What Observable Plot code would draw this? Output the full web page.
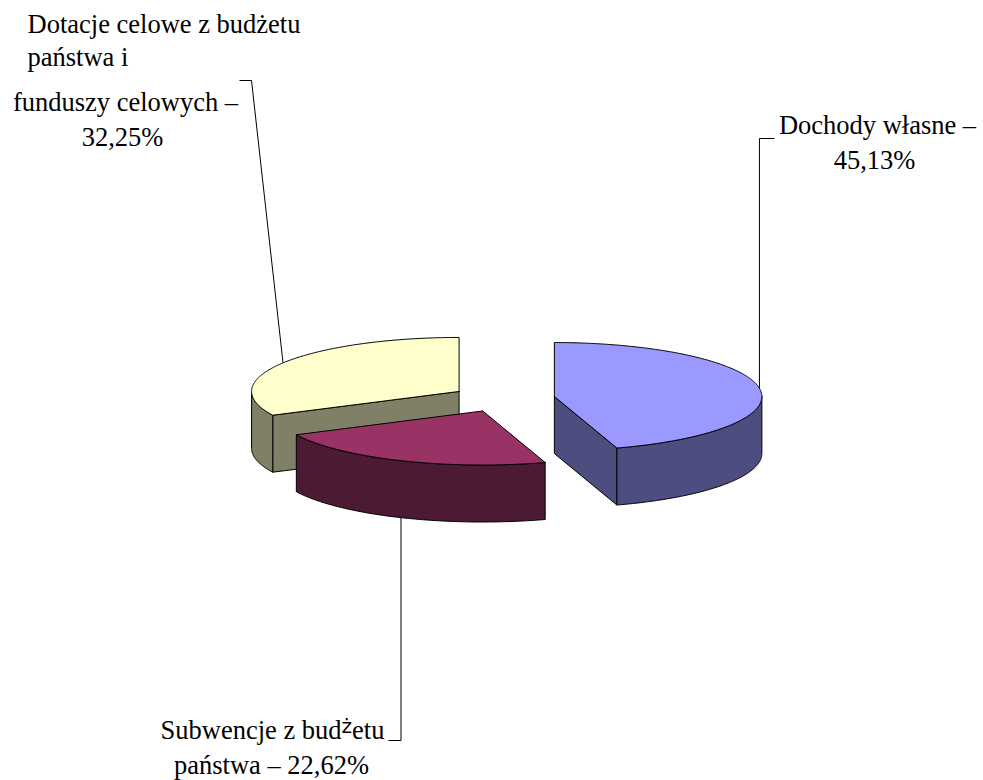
<!DOCTYPE html>
<html lang="pl">
<head>
<meta charset="utf-8">
<title>Struktura dochodów</title>
<script src="https://cdn.jsdelivr.net/npm/d3@7"></script>
<script src="https://cdn.jsdelivr.net/npm/@observablehq/plot@0.6"></script>
<style>
html,body{margin:0;padding:0;background:#fff}
svg{display:block}
</style>
</head>
<body>
<div id="chart"></div>
<script>
// Data
const categories = ["Dochody własne", "Subwencje z budżetu państwa", "Dotacje celowe z budżetu państwa i funduszy celowych"];
const shares = [45.13, 22.62, 32.25];
const topColors = ["#9999FF", "#993366", "#FFFFCC"];
const sideColors = ["#4D4D80", "#4D1A33", "#808066"];
const drawOrder = [2, 0, 1];

// Pie geometry (page pixels for the projection of the unit pie)
const W = 983, H = 780, cxPx = 502.6, cyPx = 398.1, rxPx = 207.5, ryPx = 54;
const depth = 57 / ryPx, explode = 0.25;
const ux = px => (px - cxPx) / rxPx;
const uy = py => (cyPx - py) / ryPx;

const arcs = d3.pie().sort(null)(shares);
const slices = arcs.map((a, i) => {
  const mid = (a.startAngle + a.endAngle) / 2;
  return {i, a0: a.startAngle, a1: a.endAngle, mid,
          cx: explode * Math.sin(mid), cy: explode * Math.cos(mid)};
});
const pt = (s, ang, drop = 0) => ({x: s.cx + Math.sin(ang), y: s.cy + Math.cos(ang) - drop});
const apex = (s, drop = 0) => ({x: s.cx, y: s.cy - drop});
const arcPts = (s, from, to, drop = 0) => {
  const n = Math.max(2, Math.ceil(Math.abs(to - from) / 0.01));
  return d3.range(n + 1).map(k => pt(s, from + (to - from) * k / n, drop));
};
const closed = p => [...p, p[0]];

const faces = [];
for (const i of drawOrder) {
  const s = slices[i];
  for (const ang of [s.a0, s.a1]) {
    const visible = (ang === s.a0 && Math.sin(ang) < -1e-6) || (ang === s.a1 && Math.sin(ang) > 1e-6);
    if (visible) faces.push({fill: sideColors[i], pts: closed([apex(s), pt(s, ang), pt(s, ang, depth), apex(s, depth)])});
  }
  const r0 = Math.max(s.a0, Math.PI / 2), r1 = Math.min(s.a1, 3 * Math.PI / 2);
  if (r1 > r0) faces.push({fill: sideColors[i], pts: closed([...arcPts(s, r0, r1), ...arcPts(s, r1, r0, depth)])});
  faces.push({fill: topColors[i], pts: closed([apex(s), ...arcPts(s, s.a0, s.a1)])});
}

// Leaders: rim anchor at the slice's mid-angle, then elbow and stub
const anchors = slices.map(s => pt(s, s.mid, Math.cos(s.mid) < 0 ? depth : 0));
const leaders = [
  [anchors[0], {x: anchors[0].x, y: uy(138)}, {x: ux(774), y: uy(138)}],
  [anchors[1], {x: anchors[1].x, y: uy(740)}, {x: ux(388), y: uy(740)}],
  [anchors[2], {x: ux(251), y: uy(80)}, {x: ux(239), y: uy(80)}]
];

// Labels
const labelText = [
  {t: "Dochody własne –", x: 877, y: 133, a: "middle"},
  {t: "45,13%", x: 874, y: 168, a: "middle"},
  {t: "Subwencje z budżetu", x: 272, y: 738, a: "middle"},
  {t: "państwa – 22,62%", x: 271, y: 773, a: "middle"},
  {t: "Dotacje celowe z budżetu", x: 27, y: 32, a: "start"},
  {t: "państwa i", x: 27, y: 65, a: "start"},
  {t: "funduszy celowych –", x: 125, y: 110, a: "middle"},
  {t: "32,25%", x: 122, y: 145, a: "middle"}
];

const font = "'Liberation Serif','Times New Roman',serif";
const plot = Plot.plot({
  width: W, height: H, margin: 0,
  x: {domain: [ux(0), ux(W)], range: [0, W], axis: null},
  y: {domain: [uy(H), uy(0)], range: [H, 0], axis: null},
  marks: [
    ...faces.map(f => Plot.line(f.pts, {x: "x", y: "y", fill: f.fill, stroke: "#000", strokeWidth: 1})),
    ...leaders.map(l => Plot.line(l, {x: "x", y: "y", stroke: "#000", strokeWidth: 1, strokeLinecap: "butt"})),
    ...["start", "middle"].map(anchor => Plot.text(labelText.filter(d => d.a === anchor), {
      x: d => ux(d.x), y: d => uy(d.y), text: "t", textAnchor: anchor,
      lineAnchor: "bottom", fontFamily: font, fontSize: 26.5, fill: "#000"
    }))
  ]
});
plot.setAttribute("aria-label", categories.join("; "));
document.getElementById("chart").append(plot);

// The reference sets the "ż" of one label higher, in another font
const NS = "http://www.w3.org/2000/svg";
plot.querySelectorAll("text").forEach(el => {
  if (el.textContent !== "Subwencje z budżetu") return;
  const parts = [["Subwencje z bud", null, 0, 0], ["ż", "'DejaVu Sans',sans-serif", -6, 20], ["etu", null, 6, 0]];
  el.textContent = "";
  for (const [t, ff, dy, fs] of parts) {
    const sp = document.createElementNS(NS, "tspan");
    sp.textContent = t;
    if (ff) sp.setAttribute("font-family", ff);
    if (fs) sp.setAttribute("font-size", fs);
    if (dy) sp.setAttribute("dy", dy);
    el.append(sp);
  }
});
</script>
</body>
</html>
